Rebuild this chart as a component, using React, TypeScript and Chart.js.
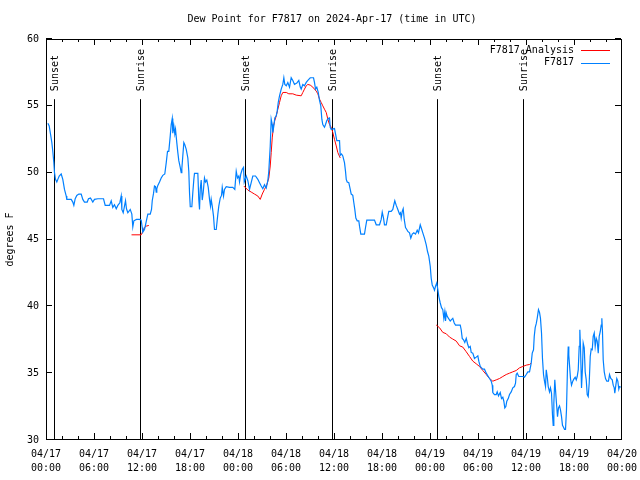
import React, { useEffect, useRef } from 'react';
import { Chart, registerables } from 'chart.js';

Chart.register(...registerables);

const FONT = '"DejaVu Sans Mono", "Liberation Mono", monospace';

const chartTitle = 'Dew Point for F7817 on 2024-Apr-17 (time in UTC)';
const yAxisTitle = 'degrees F';
const seriesNames = ['F7817 Analysis', 'F7817'];
const seriesColors = ['rgb(255,0,0)', 'rgb(0,128,255)'];

const xTickDates = ['04/17', '04/17', '04/17', '04/17', '04/18', '04/18', '04/18', '04/18', '04/19', '04/19', '04/19', '04/19', '04/20'];
const xTickTimes = ['00:00', '06:00', '12:00', '18:00', '00:00', '06:00', '12:00', '18:00', '00:00', '06:00', '12:00', '18:00', '00:00'];

const sunEventLabels = ['Sunset', 'Sunrise', 'Sunset', 'Sunrise', 'Sunset', 'Sunrise'];
const sunEventHours = [0.98, 11.73, 24.85, 35.73, 48.9, 59.6];

// hours since 04/17 00:00 UTC
const stationHours = [
  0.23, 0.40, 0.56, 0.73, 0.85, 0.98, 1.06, 1.19, 1.35, 1.48,
  1.65, 1.90, 2.10, 2.31, 2.53, 2.60, 3.15, 3.35, 3.48, 3.65,
  3.85, 4.10, 4.40, 4.60, 4.81, 5.15, 5.31, 5.56, 5.85, 6.06,
  6.48, 7.19, 7.40, 7.94, 8.15, 8.35, 8.56, 8.78, 8.98, 9.23,
  9.40, 9.48, 9.65, 9.81, 9.94, 10.06, 10.23, 10.53, 10.73, 10.85,
  10.98, 11.31, 11.69, 11.90, 12.03, 12.10, 12.31, 12.44, 12.60, 12.73,
  13.03, 13.19, 13.28, 13.44, 13.56, 13.69, 13.78, 13.85, 13.98, 14.19,
  14.40, 14.60, 14.85, 15.03, 15.19, 15.35, 15.53, 15.65, 15.78, 15.85,
  15.98, 16.10, 16.19, 16.35, 16.48, 16.60, 16.78, 16.90, 16.98, 17.10,
  17.23, 17.35, 17.53, 17.73, 17.85, 17.94, 18.03, 18.23, 18.35, 18.48,
  18.56, 18.98, 19.10, 19.19, 19.28, 19.40, 19.53, 19.65, 19.81, 19.94,
  20.10, 20.28, 20.44, 20.56, 20.65, 20.78, 20.94, 21.06, 21.28, 21.48,
  21.60, 21.78, 21.94, 22.03, 22.19, 22.31, 22.53, 22.94, 23.35, 23.60,
  23.78, 23.94, 24.10, 24.19, 24.35, 24.53, 24.69, 24.78, 25.03, 25.23,
  25.44, 25.65, 25.85, 26.19, 26.48, 26.69, 26.90, 27.10, 27.31, 27.53,
  27.73, 27.85, 28.03, 28.15, 28.28, 28.35, 28.48, 28.60, 28.78, 28.90,
  29.03, 29.19, 29.40, 29.60, 29.73, 29.85, 30.03, 30.23, 30.44, 30.65,
  30.85, 31.06, 31.35, 31.60, 31.78, 31.90, 32.10, 32.31, 32.53, 32.73,
  33.03, 33.44, 33.56, 33.69, 33.85, 34.03, 34.19, 34.35, 34.48, 34.60,
  34.81, 34.94, 35.10, 35.28, 35.44, 35.53, 35.65, 36.06, 36.19, 36.35,
  36.69, 36.78, 36.94, 37.10, 37.31, 37.44, 37.53, 37.65, 37.85, 38.03,
  38.15, 38.35, 38.48, 38.60, 38.73, 38.90, 39.10, 39.19, 39.35, 39.81,
  39.94, 40.10, 41.06, 41.28, 41.69, 41.90, 42.03, 42.19, 42.31, 42.53,
  42.73, 42.85, 43.15, 43.35, 43.48, 43.60, 43.78, 43.98, 44.19, 44.31,
  44.40, 44.53, 44.65, 44.78, 44.94, 45.10, 45.23, 45.44, 45.60, 45.78,
  45.98, 46.19, 46.40, 46.56, 46.78, 46.94, 47.10, 47.31, 47.53, 47.69,
  47.85, 48.03, 48.15, 48.28, 48.44, 48.56, 48.69, 48.85, 48.98, 49.10,
  49.28, 49.44, 49.60, 49.73, 49.85, 49.94, 50.03, 50.15, 50.31, 50.53,
  50.69, 50.85, 51.03, 51.19, 51.78, 51.90, 52.03, 52.19, 52.35, 52.53,
  52.69, 52.85, 53.03, 53.15, 53.35, 53.56, 53.78, 53.98, 54.10, 54.28,
  54.44, 54.60, 54.81, 55.03, 55.23, 55.44, 55.65, 55.78, 55.85, 56.06,
  56.28, 56.40, 56.56, 56.78, 56.94, 57.10, 57.23, 57.35, 57.48, 57.60,
  57.78, 57.94, 58.15, 58.35, 58.56, 58.69, 58.78, 58.90, 59.10, 59.60,
  59.81, 60.03, 60.23, 60.44, 60.65, 60.78, 60.94, 61.03, 61.15, 61.28,
  61.40, 61.56, 61.69, 61.81, 61.94, 62.06, 62.19, 62.31, 62.44, 62.53,
  62.65, 62.78, 62.94, 63.06, 63.19, 63.31, 63.40, 63.48, 63.60, 63.69,
  63.81, 63.94, 64.06, 64.19, 64.31, 64.44, 64.56, 64.69, 64.81, 64.94,
  65.06, 65.19, 65.28, 65.35, 65.44, 65.56, 65.69, 65.85, 65.98, 66.15,
  66.28, 66.40, 66.53, 66.65, 66.73, 66.81, 66.94, 67.06, 67.15, 67.28,
  67.40, 67.53, 67.65, 67.78, 67.90, 68.03, 68.15, 68.28, 68.40, 68.53,
  68.65, 68.78, 68.90, 69.03, 69.15, 69.28, 69.40, 69.48, 69.56, 69.65,
  69.78, 69.94, 70.10, 70.31, 70.44, 70.60, 70.78, 70.90, 71.03, 71.10,
  71.23, 71.35, 71.48, 71.60, 71.69, 71.85,
];

const stationDewPoint = [
  53.7, 53.5, 52.9, 52.25, 51.6, 50.75, 50.0, 49.5, 49.3, 49.5,
  49.75, 49.9, 49.5, 48.75, 48.25, 48.0, 48.0, 47.8, 47.55, 48.05,
  48.3, 48.4, 48.4, 48.0, 47.8, 47.8, 48.05, 48.1, 47.8, 48.0,
  48.05, 48.05, 47.55, 47.55, 47.9, 47.4, 47.6, 47.3, 47.55, 47.75,
  48.25, 47.25, 47.0, 47.5, 47.9, 47.3, 47.0, 47.25, 46.9, 45.95,
  46.4, 46.5, 46.5, 46.45, 45.9, 45.55, 45.75, 46.1, 46.55, 46.9,
  46.9, 47.25, 47.9, 48.45, 49.0, 48.95, 48.55, 48.8, 49.05, 49.3,
  49.6, 49.8, 49.9, 50.75, 51.6, 51.6, 52.75, 53.6, 54.05, 52.95,
  53.5, 52.9, 53.25, 52.25, 51.5, 50.9, 50.4, 50.0, 50.3, 51.25,
  52.25, 52.1, 51.75, 51.1, 50.1, 48.5, 47.45, 47.45, 48.5, 49.5,
  49.95, 49.95, 48.0, 47.25, 48.75, 49.45, 47.95, 48.5, 49.6, 49.3,
  49.45, 48.9, 48.0, 47.5, 48.0, 47.5, 46.75, 45.75, 45.75, 46.9,
  47.5, 48.1, 48.3, 48.9, 48.25, 48.75, 48.95, 48.9, 48.9, 48.75,
  50.1, 49.6, 49.75, 49.3, 49.9, 50.25, 50.4, 49.3, 49.75, 49.4,
  48.75, 49.25, 49.75, 49.75, 49.5, 49.25, 49.0, 48.8, 49.1, 48.85,
  49.4, 50.1, 52.0, 54.0, 53.6, 53.0, 53.5, 54.1, 54.25, 54.6,
  55.25, 55.75, 56.25, 56.6, 57.1, 56.6, 56.5, 56.75, 56.4, 57.1,
  56.9, 56.6, 56.7, 56.9, 56.4, 56.25, 56.6, 56.5, 56.75, 56.9,
  57.1, 57.1, 56.75, 56.25, 56.4, 56.0, 55.4, 55.0, 54.0, 53.6,
  53.4, 53.6, 53.9, 54.05, 54.1, 53.4, 53.25, 53.3, 52.9, 52.4,
  52.4, 51.3, 51.4, 51.25, 50.75, 50.1, 49.5, 49.3, 49.25, 48.75,
  48.4, 48.3, 47.75, 47.25, 46.6, 46.4, 46.4, 46.0, 45.4, 45.4,
  45.9, 46.45, 46.45, 46.1, 46.1, 46.5, 47.05, 46.6, 46.1, 46.1,
  46.75, 47.1, 47.1, 47.25, 47.6, 47.9, 47.55, 47.25, 46.9, 47.0,
  46.6, 47.1, 47.3, 46.5, 45.9, 45.75, 45.6, 45.5, 45.1, 45.4,
  45.5, 45.4, 45.7, 45.5, 46.1, 45.8, 45.5, 45.1, 44.6, 44.1,
  43.75, 43.0, 42.1, 41.6, 41.4, 41.2, 41.5, 41.75, 41.25, 40.75,
  40.25, 39.9, 39.75, 39.1, 39.6, 38.9, 39.5, 39.25, 39.1, 38.9,
  39.0, 39.1, 38.75, 38.6, 38.6, 38.25, 37.6, 37.5, 37.3, 37.6,
  37.2, 36.9, 37.0, 36.55, 36.5, 36.1, 36.2, 36.3, 35.9, 35.5,
  35.4, 35.3, 35.3, 35.0, 34.8, 34.6, 34.4, 34.1, 33.55, 33.4,
  33.4, 33.6, 33.3, 33.55, 33.1, 33.2, 32.9, 32.4, 32.5, 32.9,
  33.1, 33.4, 33.6, 33.9, 34.0, 34.25, 34.9, 35.0, 34.75, 34.75,
  34.7, 34.9, 35.1, 35.1, 35.75, 36.5, 36.75, 37.75, 38.4, 38.7,
  39.1, 39.75, 39.55, 39.1, 38.0, 36.1, 34.9, 34.4, 34.0, 35.25,
  34.75, 34.0, 33.6, 33.9, 33.5, 31.9, 31.1, 32.75, 34.5, 33.75,
  32.75, 31.75, 32.4, 32.55, 32.25, 31.75, 31.1, 30.95, 30.8, 30.8,
  32.25, 35.5, 37.0, 36.35, 35.6, 34.6, 34.1, 34.4, 34.55, 34.7,
  34.5, 34.75, 35.25, 37.0, 38.25, 37.0, 33.9, 35.4, 37.25, 36.9,
  35.1, 34.5, 33.4, 33.25, 34.25, 36.25, 36.8, 36.75, 37.75, 38.0,
  37.0, 37.6, 37.4, 36.5, 37.75, 38.1, 38.6, 39.1, 38.1, 36.0,
  35.1, 34.6, 34.4, 34.4, 34.9, 34.6, 34.5, 34.1, 33.9, 33.5,
  34.1, 34.6, 34.4, 33.8, 34.0, 33.95,
];

// null separates the analysis segments
const analysisHours = [
  10.69, 11.90, 12.10, 12.31, 12.53, 12.85,
  null,
  24.73, 25.23, 25.65, 26.06, 26.48, 26.78, 27.03, 27.31, 27.60, 27.85,
  28.03, 28.15, 28.28, 28.44, 28.60, 28.78, 28.98, 29.19, 29.40, 29.60,
  30.03, 30.35, 30.85, 31.28, 31.90, 32.10, 32.31, 32.53, 32.73, 33.03,
  33.35, 33.56, 33.78, 33.98, 34.19, 34.40, 34.60, 34.81, 35.03, 35.23,
  35.44, 35.65, 35.85, 36.06, 36.28, 36.48, 36.78,
  null,
  48.78, 49.19, 49.60, 50.03, 50.44, 50.85, 51.28, 51.69, 52.10, 52.53,
  52.94, 53.35, 53.78, 54.19, 54.60, 55.03, 55.44, 55.85, 56.28, 56.69,
  57.10, 57.53, 57.94, 58.35, 58.78, 59.19, 59.60, 60.03, 60.44, 60.65,
];

const analysisDewPoint = [
  45.35, 45.35, 45.6, 45.9, 46.0, 46.05,
  null,
  49.0, 48.7, 48.55, 48.4, 48.25, 48.0, 48.4, 48.75, 49.1, 49.6,
  50.5, 51.5, 52.6, 53.5, 53.9, 54.25, 54.75, 55.25, 55.75, 56.0,
  56.0, 55.9, 55.9, 55.8, 55.75, 56.0, 56.25, 56.5, 56.6, 56.55,
  56.4, 56.25, 56.1, 55.9, 55.5, 55.25, 55.0, 54.75, 54.5, 54.0,
  53.6, 53.4, 53.0, 52.5, 52.0, 51.5, 51.1,
  null,
  38.6, 38.4, 38.05, 37.95, 37.7, 37.55, 37.4, 37.05, 36.95, 36.6,
  36.25, 35.9, 35.7, 35.5, 35.2, 34.9, 34.6, 34.4, 34.5, 34.6,
  34.75, 34.9, 35.0, 35.1, 35.2, 35.4, 35.5, 35.6, 35.65, 35.75,
];

const X_MIN = 0;
const X_MAX = 72;
const X_MAJOR = 6;
const X_MINOR = 2;
const Y_MIN = 30;
const Y_MAX = 60;
const Y_STEP = 5;

function buildPoints(hours: (number | null)[], values: (number | null)[]) {
  const pts: { x: number; y: number | null }[] = [];
  let lastX = 0;
  hours.forEach((h, i) => {
    const v = values[i];
    if (h === null || v === null) {
      pts.push({ x: lastX, y: null });
    } else {
      lastX = h;
      pts.push({ x: h, y: v });
    }
  });
  return pts;
}

const gnuplotPlugin = {
  id: 'gnuplotDecor',
  beforeDatasetsDraw(chart: any) {
    const { ctx, chartArea: a, scales } = chart;
    const xs = scales.x;
    const h = a.bottom - a.top;
    ctx.save();
    ctx.strokeStyle = '#000';
    ctx.fillStyle = '#000';
    ctx.lineWidth = 1;
    ctx.font = `10px ${FONT}`;
    sunEventHours.forEach((hr, i) => {
      const px = Math.round(xs.getPixelForValue(hr)) + 0.5;
      const lineTop = a.top + h * 0.15;
      ctx.beginPath();
      ctx.moveTo(px, lineTop);
      ctx.lineTo(px, a.bottom);
      ctx.stroke();
      ctx.save();
      ctx.translate(px + 1, a.top + h * 0.13);
      ctx.rotate(-Math.PI / 2);
      ctx.textAlign = 'left';
      ctx.textBaseline = 'middle';
      ctx.fillText(sunEventLabels[i], 0, 0);
      ctx.restore();
    });
    ctx.restore();
  },
  afterDraw(chart: any) {
    const { ctx, chartArea: a, scales } = chart;
    const xs = scales.x;
    const ys = scales.y;
    ctx.save();
    ctx.strokeStyle = '#000';
    ctx.lineWidth = 1;
    // frame
    ctx.strokeRect(a.left + 0.5, a.top + 0.5, a.right - a.left - 1, a.bottom - a.top - 1);
    ctx.beginPath();
    // x ticks (major + minor), mirrored on top
    for (let v = X_MIN; v <= X_MAX; v += X_MINOR) {
      const px = Math.min(Math.round(xs.getPixelForValue(v)), a.right - 1) + 0.5;
      const len = v % X_MAJOR === 0 ? 6 : 3;
      ctx.moveTo(px, a.bottom - 1);
      ctx.lineTo(px, a.bottom - 1 - len);
      ctx.moveTo(px, a.top);
      ctx.lineTo(px, a.top + len);
    }
    // y ticks, mirrored on right
    ys.ticks.forEach((t: any) => {
      const py = Math.round(ys.getPixelForValue(t.value)) - 0.5;
      ctx.moveTo(a.left, py);
      ctx.lineTo(a.left + 6, py);
      ctx.moveTo(a.right - 1, py);
      ctx.lineTo(a.right - 7, py);
    });
    ctx.stroke();

    // title
    ctx.fillStyle = '#000';
    ctx.font = `10px ${FONT}`;
    ctx.textAlign = 'center';
    ctx.textBaseline = 'middle';
    ctx.fillText(chartTitle, (a.left + a.right) / 2 - 2, 19);

    // legend (text right, sample line after)
    ctx.textAlign = 'right';
    seriesNames.forEach((name, i) => {
      const ly = a.top + 11 + i * 12.5;
      ctx.fillStyle = '#000';
      ctx.fillText(name, a.right - 48, ly);
      ctx.strokeStyle = seriesColors[i];
      ctx.lineWidth = 1;
      ctx.beginPath();
      ctx.moveTo(a.right - 41, Math.round(ly) + 0.5);
      ctx.lineTo(a.right - 12, Math.round(ly) + 0.5);
      ctx.stroke();
    });
    ctx.restore();
  },
};

export default function App() {
  const ref = useRef<HTMLCanvasElement>(null);
  useEffect(() => {
    const canvas = ref.current;
    if (!canvas) return;
    const chart = new Chart(canvas, {
      type: 'line',
      data: {
        datasets: [
          {
            label: seriesNames[0],
            data: buildPoints(analysisHours, analysisDewPoint),
            borderColor: seriesColors[0],
            backgroundColor: seriesColors[0],
            borderWidth: 1,
            pointRadius: 0,
            spanGaps: false,
            tension: 0,
            order: 1,
          },
          {
            label: seriesNames[1],
            data: buildPoints(stationHours, stationDewPoint),
            borderColor: seriesColors[1],
            backgroundColor: seriesColors[1],
            borderWidth: 1.2,
            pointRadius: 0,
            tension: 0,
            order: 0,
          },
        ],
      },
      options: {
        responsive: false,
        animation: false,
        devicePixelRatio: 1,
        layout: { padding: { left: 0, right: 18, top: 39, bottom: 0 } },
        plugins: {
          legend: { display: false },
          tooltip: { enabled: false },
          title: { display: false },
        },
        scales: {
          x: {
            type: 'linear',
            min: X_MIN,
            max: X_MAX,
            grid: { display: false, drawTicks: false },
            border: { display: false },
            ticks: {
              stepSize: X_MAJOR,
              autoSkip: false,
              maxRotation: 0,
              padding: 7,
              color: '#000',
              font: { family: FONT, size: 10, lineHeight: 1.4 },
              callback: (value: any) => {
                const i = Math.round(Number(value) / X_MAJOR);
                return [xTickDates[i], xTickTimes[i]];
              },
            },
            afterFit: (s: any) => {
              s.height = 40;
              s.paddingLeft = 0;
              s.paddingRight = 0;
            },
          },
          y: {
            min: Y_MIN,
            max: Y_MAX,
            grid: { display: false, drawTicks: false },
            border: { display: false },
            ticks: {
              stepSize: Y_STEP,
              padding: 7,
              color: '#000',
              font: { family: FONT, size: 10 },
              callback: (value: any) => String(value),
            },
            title: {
              display: true,
              text: yAxisTitle,
              color: '#000',
              font: { family: FONT, size: 10 },
              padding: { top: 4, bottom: 0 },
            },
            afterFit: (s: any) => {
              s.width = 46;
              s.paddingTop = 0;
              s.paddingBottom = 0;
            },
          },
        },
      },
      plugins: [gnuplotPlugin],
    } as any);
    return () => chart.destroy();
  }, []);
  return (
    <div style={{ position: 'absolute', left: 0, top: 0, width: 640, height: 480, background: '#fff' }}>
      <canvas ref={ref} width={640} height={480} style={{ display: 'block', width: 640, height: 480 }} />
    </div>
  );
}
